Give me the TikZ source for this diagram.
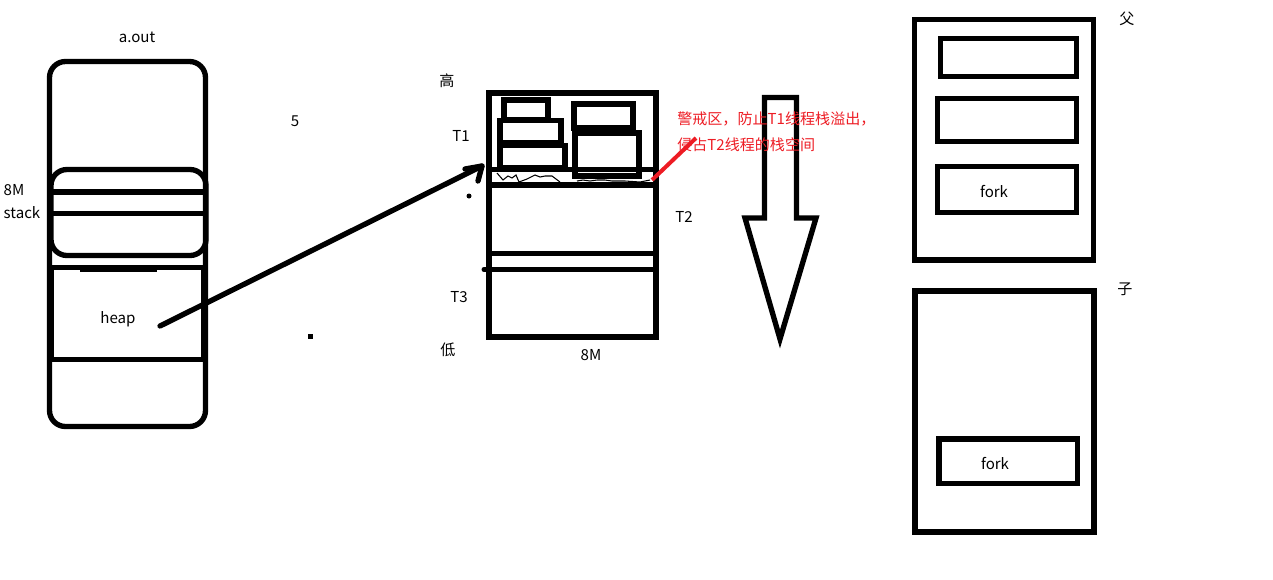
\documentclass[tikz,border=0pt]{standalone}
\usepackage{fontspec}
\setmainfont{Noto Sans CJK SC}
\usetikzlibrary{fit}
\definecolor{mspred}{RGB}{237,28,36}
\tikzset{
  ink/.style={line width=4pt},
  box/.style={draw, ink, rectangle, inner sep=0pt, outer sep=0pt},
  rbox/.style={box, rounded corners=12pt},
  lbl/.style={inner sep=0pt, font=\fontsize{11.3}{13}\selectfont},
  redlbl/.style={lbl, text=mspred, anchor=west},
}
\begin{document}
\begin{tikzpicture}[x=0.75pt,y=-0.75pt]
\useasboundingbox (0,0) rectangle (1273,579);
% ---------- a.out ----------
\coordinate (ao1) at (49.5,61.5); \coordinate (ao2) at (205.5,426.5);
\node[rbox, fit=(ao1)(ao2)] (aout) {};
\coordinate (st1) at (51,169.5); \coordinate (st2) at (206,255.5);
\node[rbox, fit=(st1)(st2)] (stack) {};
\draw[ink] (51,192) -- (205,192);
\draw[ink] (51,213.5) -- (205,213.5);
\coordinate (hp1) at (51.5,267.5); \coordinate (hp2) at (204,359.5);
\node[box, fit=(hp1)(hp2)] (heapbox) {};
\draw[line width=4.5pt] (80,268.5) -- (157,268.5);
\draw[line width=2pt] (50.5,268) -- (50.5,359);
\node[lbl] (taout) at (137,37) {a.out};
\node[lbl] (t8ma) at (14,190) {8M};
\node[lbl] (tstack) at (22,213) {stack};
\node[lbl] (theap) at (118,319) {heap};
\node[lbl] (tfive) at (295,121) {5};
\fill (307.5,333.5) rectangle (312.5,338.5);
% ---------- thread stacks ----------
\coordinate (m1) at (489,93); \coordinate (m2) at (656,337);
\node[box, fit=(m1)(m2)] (mid) {};
\draw[ink] (489,169.5) -- (656,169.5);
\draw[ink] (489,185) -- (656,185);
\draw[ink] (489,253.5) -- (656,253.5);
\draw[ink] (484,269.5) -- (656,269.5);
\fill (484,269.5) circle (2.5);
\coordinate (b1a) at (504,100); \coordinate (b1b) at (548,120);
\node[box, fit=(b1a)(b1b)] (sb1) {};
\coordinate (b2a) at (500,120.5); \coordinate (b2b) at (561,143);
\node[box, fit=(b2a)(b2b)] (sb2) {};
\coordinate (b3a) at (500,145.5); \coordinate (b3b) at (565,168);
\node[box, fit=(b3a)(b3b)] (sb3) {};
\coordinate (b4a) at (574,104); \coordinate (b4b) at (633,128);
\node[box, fit=(b4a)(b4b)] (sb4) {};
\coordinate (b5a) at (575,133); \coordinate (b5b) at (639,176);
\node[box, fit=(b5a)(b5b)] (sb5) {};
\draw[line width=0.8pt] (497,173) -- (503,180) -- (508,176) -- (512,178) -- (516,175) -- (519,182)
  -- (527,179) -- (535,175) -- (540,177) -- (545,176) -- (552,176) -- (556,179) -- (560,182);
\draw[line width=0.8pt] (577,181) -- (583,180) -- (590,181) -- (597,180) -- (605,180) -- (612,181)
  -- (625,181) -- (640,182) -- (650,180);
\fill (469,196) circle (2.5);
\node[lbl] (tgao) at (447,81) {高};
\node[lbl] (tt1) at (461,136) {T1};
\node[lbl] (tt2) at (684,217) {T2};
\node[lbl] (tt3) at (459,297) {T3};
\node[lbl] (tdi) at (448,350) {低};
\node[lbl] (t8mb) at (591,355) {8M};
% ---------- big down arrow ----------
\draw[ink, line join=miter] (745,218) -- (764.5,218) -- (764.5,97.5) -- (796.5,97.5)
  -- (796.5,218) -- (816,218) -- (780,339) -- cycle;
% red note (drawn over the arrow)
\node[redlbl] (note1) at (677,119) {警戒区，防止T1线程栈溢出，};
\node[redlbl] (note2) at (677,145) {侵占T2线程的栈空间};
\coordinate (guard) at (652,180);
\coordinate (noteend) at (696,138);
\draw[mspred, line width=3pt] (guard) -- (noteend);
% heap -> stack arrow
\coordinate (hs) at (160,326);
\coordinate (tip) at (482,166);
\coordinate (armA) at (465,169);
\coordinate (armB) at (478,181);
\draw[ink, line cap=round] (hs) -- (tip);
\draw[ink, line cap=round, line join=round] (armA) -- (tip) -- (armB);
% ---------- fork ----------
\coordinate (p1) at (914.5,19.5); \coordinate (p2) at (1093.5,260);
\node[box, fit=(p1)(p2)] (parent) {};
\coordinate (pa1) at (940.5,38.5); \coordinate (pa2) at (1076.5,76.5);
\node[box, fit=(pa1)(pa2)] (pbox1) {};
\coordinate (pb1) at (937.5,98.5); \coordinate (pb2) at (1076.5,141.5);
\node[box, fit=(pb1)(pb2)] (pbox2) {};
\coordinate (pc1) at (937.5,166.5); \coordinate (pc2) at (1076.5,212.5);
\node[box, fit=(pc1)(pc2)] (pbox3) {};
\coordinate (c1) at (915,291); \coordinate (c2) at (1094,532);
\node[box, fit=(c1)(c2)] (child) {};
\coordinate (ca1) at (939,439); \coordinate (ca2) at (1077.5,483.5);
\node[box, fit=(ca1)(ca2)] (cbox) {};
\node[lbl] (tfork1) at (994,191) {fork};
\node[lbl] (tfork2) at (995,463) {fork};
\node[lbl] (tfu) at (1127,19) {父};
\node[lbl] (tzi) at (1125,289) {子};
\end{tikzpicture}
\end{document}
